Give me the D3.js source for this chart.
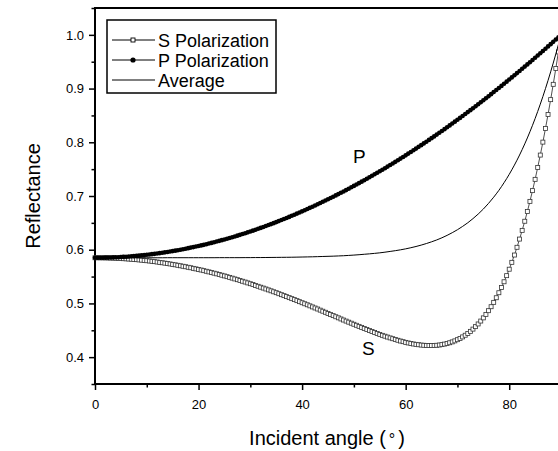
<!DOCTYPE html>
<html>
<head>
<meta charset="utf-8">
<script src="https://cdn.jsdelivr.net/npm/d3@7/dist/d3.min.js"></script>
<style>
  html, body { margin: 0; padding: 0; background: #fff; }
  svg { display: block; }
  text { font-family: "Liberation Sans", Arial, Helvetica, sans-serif; fill: #000; }
</style>
</head>
<body>
<svg id="chart" width="558" height="451"></svg>
<script>
// Reflectance vs incident angle, sampled every 0.5 degree (0 .. 90)
const angleStep = 0.5;

const sPolarization = [
  0.5850, 0.5850, 0.5849, 0.5849, 0.5848, 0.5847, 0.5845, 0.5843, 0.5841, 0.5839,
  0.5836, 0.5833, 0.5830, 0.5827, 0.5823, 0.5819, 0.5815, 0.5810, 0.5806, 0.5801,
  0.5795, 0.5790, 0.5784, 0.5778, 0.5771, 0.5764, 0.5757, 0.5750, 0.5743, 0.5735,
  0.5727, 0.5719, 0.5710, 0.5701, 0.5692, 0.5683, 0.5673, 0.5664, 0.5653, 0.5643,
  0.5632, 0.5622, 0.5610, 0.5599, 0.5587, 0.5575, 0.5563, 0.5551, 0.5538, 0.5525,
  0.5512, 0.5498, 0.5485, 0.5471, 0.5456, 0.5442, 0.5427, 0.5413, 0.5398, 0.5382,
  0.5367, 0.5351, 0.5335, 0.5319, 0.5302, 0.5286, 0.5269, 0.5252, 0.5235, 0.5217,
  0.5200, 0.5181, 0.5163, 0.5145, 0.5127, 0.5108, 0.5089, 0.5071, 0.5052, 0.5033,
  0.5013, 0.4994, 0.4975, 0.4955, 0.4935, 0.4915, 0.4896, 0.4875, 0.4855, 0.4835,
  0.4814, 0.4793, 0.4773, 0.4752, 0.4732, 0.4711, 0.4691, 0.4671, 0.4651, 0.4632,
  0.4612, 0.4593, 0.4573, 0.4554, 0.4535, 0.4516, 0.4497, 0.4478, 0.4460, 0.4441,
  0.4423, 0.4406, 0.4390, 0.4374, 0.4358, 0.4343, 0.4328, 0.4314, 0.4300, 0.4288,
  0.4275, 0.4264, 0.4254, 0.4245, 0.4238, 0.4231, 0.4225, 0.4221, 0.4218, 0.4216,
  0.4216, 0.4218, 0.4221, 0.4226, 0.4233, 0.4243, 0.4254, 0.4268, 0.4284, 0.4303,
  0.4325, 0.4349, 0.4377, 0.4408, 0.4442, 0.4480, 0.4522, 0.4568, 0.4618, 0.4672,
  0.4731, 0.4796, 0.4865, 0.4939, 0.5020, 0.5106, 0.5199, 0.5297, 0.5403, 0.5517,
  0.5637, 0.5765, 0.5901, 0.6045, 0.6198, 0.6360, 0.6530, 0.6711, 0.6900, 0.7100,
  0.7310, 0.7531, 0.7762, 0.8003, 0.8256, 0.8519, 0.8794, 0.9079, 0.9375, 0.9682,
  1.0000
];

const pPolarization = [
  0.5850, 0.5850, 0.5851, 0.5851, 0.5852, 0.5853, 0.5855, 0.5857, 0.5859, 0.5861,
  0.5864, 0.5867, 0.5870, 0.5873, 0.5877, 0.5881, 0.5885, 0.5890, 0.5895, 0.5900,
  0.5905, 0.5911, 0.5917, 0.5923, 0.5929, 0.5936, 0.5943, 0.5951, 0.5958, 0.5966,
  0.5974, 0.5983, 0.5991, 0.6000, 0.6010, 0.6019, 0.6029, 0.6039, 0.6049, 0.6059,
  0.6069, 0.6080, 0.6091, 0.6103, 0.6115, 0.6127, 0.6139, 0.6152, 0.6165, 0.6178,
  0.6191, 0.6205, 0.6219, 0.6233, 0.6247, 0.6262, 0.6277, 0.6292, 0.6307, 0.6323,
  0.6339, 0.6355, 0.6372, 0.6389, 0.6406, 0.6423, 0.6441, 0.6459, 0.6477, 0.6495,
  0.6514, 0.6533, 0.6552, 0.6571, 0.6591, 0.6611, 0.6631, 0.6651, 0.6672, 0.6693,
  0.6714, 0.6735, 0.6757, 0.6779, 0.6801, 0.6823, 0.6846, 0.6869, 0.6892, 0.6915,
  0.6939, 0.6962, 0.6986, 0.7011, 0.7035, 0.7060, 0.7085, 0.7110, 0.7136, 0.7162,
  0.7188, 0.7214, 0.7240, 0.7267, 0.7294, 0.7321, 0.7349, 0.7376, 0.7404, 0.7432,
  0.7461, 0.7489, 0.7518, 0.7547, 0.7577, 0.7606, 0.7636, 0.7666, 0.7696, 0.7727,
  0.7757, 0.7789, 0.7820, 0.7851, 0.7882, 0.7915, 0.7947, 0.7979, 0.8011, 0.8044,
  0.8077, 0.8110, 0.8143, 0.8177, 0.8211, 0.8245, 0.8279, 0.8314, 0.8349, 0.8384,
  0.8419, 0.8454, 0.8490, 0.8526, 0.8562, 0.8598, 0.8635, 0.8672, 0.8708, 0.8746,
  0.8783, 0.8821, 0.8858, 0.8896, 0.8935, 0.8973, 0.9011, 0.9050, 0.9090, 0.9129,
  0.9168, 0.9208, 0.9248, 0.9288, 0.9328, 0.9369, 0.9409, 0.9450, 0.9491, 0.9533,
  0.9574, 0.9616, 0.9658, 0.9700, 0.9742, 0.9785, 0.9827, 0.9870, 0.9913, 0.9957,
  1.0000
];

// Average of the two polarizations, every 1 degree (0 .. 90)
const averageReflectance = [
  0.5850, 0.5850, 0.5850, 0.5850, 0.5850, 0.5850, 0.5850, 0.5850, 0.5850, 0.5850,
  0.5850, 0.5850, 0.5850, 0.5850, 0.5851, 0.5851, 0.5851, 0.5851, 0.5851, 0.5851,
  0.5851, 0.5851, 0.5851, 0.5851, 0.5852, 0.5852, 0.5852, 0.5852, 0.5852, 0.5853,
  0.5853, 0.5854, 0.5854, 0.5855, 0.5856, 0.5857, 0.5858, 0.5859, 0.5860, 0.5862,
  0.5864, 0.5866, 0.5868, 0.5871, 0.5874, 0.5877, 0.5880, 0.5884, 0.5888, 0.5894,
  0.5900, 0.5907, 0.5915, 0.5923, 0.5932, 0.5942, 0.5954, 0.5968, 0.5982, 0.5998,
  0.6016, 0.6037, 0.6060, 0.6086, 0.6115, 0.6147, 0.6182, 0.6222, 0.6267, 0.6317,
  0.6372, 0.6434, 0.6502, 0.6579, 0.6663, 0.6757, 0.6862, 0.6978, 0.7105, 0.7247,
  0.7403, 0.7575, 0.7763, 0.7970, 0.8196, 0.8442, 0.8710, 0.8999, 0.9311, 0.9644,
  1.0000
];

const xTicks = [0, 20, 40, 60, 80];
const xMinorTicks = [10, 30, 50, 70, 90];
const yTicks = [0.4, 0.5, 0.6, 0.7, 0.8, 0.9, 1.0];
const yMinorTicks = [0.35, 0.45, 0.55, 0.65, 0.75, 0.85, 0.95, 1.05];
const legendLabels = ["S Polarization", "P Polarization", "Average"];
const curveLabels = ["P", "S"];

const angles = sPolarization.map((_, i) => i * angleStep);
const averageAngles = averageReflectance.map((_, i) => i);

const svg = d3.select("#chart");
svg.append("rect").attr("width", 558).attr("height", 451).attr("fill", "#fff");

const x = d3.scaleLinear().domain([0, 90]).range([95, 561]);
const y = d3.scaleLinear().domain([0.35, 1.05]).range([384, 8]);

// ---- axes ----
const xAxis = svg.append("g").attr("transform", `translate(0,${y(0.35)})`)
  .call(d3.axisBottom(x).tickValues(xTicks).tickSize(6).tickSizeOuter(0)
        .tickPadding(10).tickFormat(d3.format("d")));
const xMinor = svg.append("g").attr("transform", `translate(0,${y(0.35)})`)
  .call(d3.axisBottom(x).tickValues(xMinorTicks).tickSize(3.5).tickSizeOuter(0).tickFormat(""));

const yAxis = svg.append("g").attr("transform", `translate(${x(0)},0)`)
  .call(d3.axisLeft(y).tickValues(yTicks).tickSize(6).tickSizeOuter(0)
        .tickPadding(5).tickFormat(d3.format(".1f")));
const yMinor = svg.append("g").attr("transform", `translate(${x(0)},0)`)
  .call(d3.axisLeft(y).tickValues(yMinorTicks).tickSize(3.5).tickSizeOuter(0).tickFormat(""));

[xAxis, xMinor, yAxis, yMinor].forEach(g => {
  g.select(".domain").remove();
  g.selectAll(".tick line").attr("stroke", "#000").attr("stroke-width", 1.5);
  g.selectAll(".tick text").attr("font-size", 13)
    .attr("font-family", '"Liberation Sans", Arial, sans-serif').attr("fill", "#000");
});

// frame: bottom / left axes and top border
const frame = svg.append("g").attr("stroke", "#000").attr("stroke-width", 2).attr("fill", "none");
frame.append("line").attr("x1", x(0) - 1).attr("x2", x(90)).attr("y1", y(0.35)).attr("y2", y(0.35));
frame.append("line").attr("x1", x(0)).attr("x2", x(0)).attr("y1", y(1.05)).attr("y2", y(0.35) + 1);
frame.append("line").attr("x1", x(0) - 1).attr("x2", x(90)).attr("y1", y(1.05)).attr("y2", y(1.05));
frame.append("line").attr("x1", x(90)).attr("x2", x(90)).attr("y1", y(1.05)).attr("y2", y(0.35));

// ---- axis titles ----
const xTitle = svg.append("text").attr("x", x(45) - 1).attr("y", 445)
  .attr("text-anchor", "middle").attr("font-size", 20);
xTitle.append("tspan").text("Incident angle (");
xTitle.append("tspan").attr("dx", 3).attr("font-size", 16).text("°");
xTitle.append("tspan").attr("dx", 3).text(")");

svg.append("text").attr("transform", `translate(40,${y(0.7)}) rotate(-90)`)
  .attr("text-anchor", "middle").attr("font-size", 20).text("Reflectance");

// ---- data ----
const sPoints = angles.map((a, i) => ({ a, v: sPolarization[i] }));
const pPoints = angles.map((a, i) => ({ a, v: pPolarization[i] }));
const avgPoints = averageAngles.map((a, i) => ({ a, v: averageReflectance[i] }));

const line = d3.line().x(d => x(d.a)).y(d => y(d.v));

// S polarization: thin line with open squares
svg.append("path").datum(sPoints).attr("d", line)
  .attr("fill", "none").attr("stroke", "#222").attr("stroke-width", 0.8);
svg.append("g").selectAll("rect").data(sPoints).join("rect")
  .attr("x", d => x(d.a) - 2).attr("y", d => y(d.v) - 2)
  .attr("width", 4).attr("height", 4)
  .attr("fill", "#fff").attr("stroke", "#333").attr("stroke-width", 0.8);

// P polarization: line with filled dots
svg.append("path").datum(pPoints).attr("d", line)
  .attr("fill", "none").attr("stroke", "#000").attr("stroke-width", 1);
svg.append("g").selectAll("circle").data(pPoints).join("circle")
  .attr("cx", d => x(d.a)).attr("cy", d => y(d.v)).attr("r", 2.3)
  .attr("fill", "#000");

// Average: plain line
svg.append("path").datum(avgPoints).attr("d", line.curve(d3.curveMonotoneX))
  .attr("fill", "none").attr("stroke", "#000").attr("stroke-width", 1);

// curve labels
svg.append("text").attr("x", 353).attr("y", 163).attr("font-size", 19).text(curveLabels[0]);
svg.append("text").attr("x", 362).attr("y", 355).attr("font-size", 19).text(curveLabels[1]);

// ---- legend ----
const legend = svg.append("g");
legend.append("rect").attr("x", 107).attr("y", 20).attr("width", 169).attr("height", 73)
  .attr("fill", "#fff").attr("stroke", "#000").attr("stroke-width", 1.5);
legendLabels.forEach((label, i) => {
  const cy = 40 + i * 20;
  legend.append("line").attr("x1", 112).attr("x2", 155).attr("y1", cy).attr("y2", cy)
    .attr("stroke", "#000").attr("stroke-width", 1);
  if (i === 0) {
    legend.append("rect").attr("x", 131).attr("y", cy - 2).attr("width", 4).attr("height", 4)
      .attr("fill", "#fff").attr("stroke", "#000").attr("stroke-width", 0.9);
  } else if (i === 1) {
    legend.append("circle").attr("cx", 133).attr("cy", cy).attr("r", 2.6).attr("fill", "#000");
  }
  legend.append("text").attr("x", 158).attr("y", cy + 6.5).attr("font-size", 18).text(label);
});
</script>
</body>
</html>
